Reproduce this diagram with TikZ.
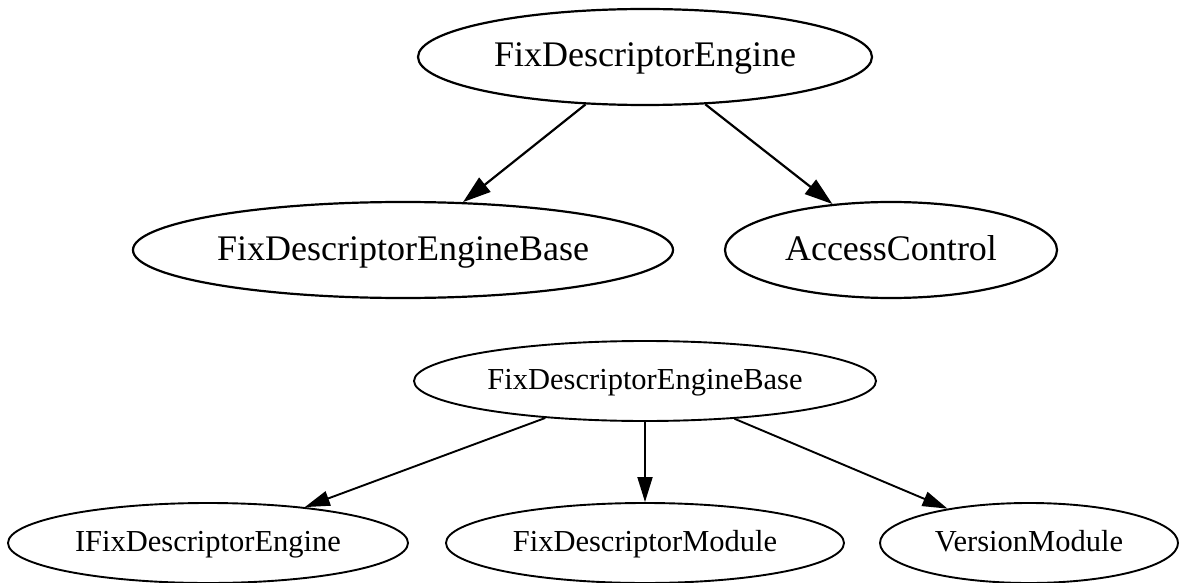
\documentclass[tikz,border=0pt]{standalone}
\usepackage{fontspec}
\setmainfont{Liberation Serif}
\usetikzlibrary{shapes.geometric,arrows.meta}
\begin{document}
\begin{tikzpicture}[x=1pt,y=1pt,
  bigell/.style={ellipse,draw,line width=2.2pt,inner sep=0pt,text height=25pt,text depth=5pt,font=\fontsize{36}{40}\selectfont},
  smallell/.style={ellipse,draw,line width=1.9pt,inner sep=0pt,text height=21pt,text depth=5pt,font=\fontsize{30.5}{34}\selectfont},
  bigarr/.style={line width=2.2pt,-{Triangle[length=28pt,width=18pt]}},
  smallarr/.style={line width=1.9pt,-{Triangle[length=25pt,width=15pt]}}]
\useasboundingbox (0,0) rectangle (1180,582);
\node[bigell,minimum width=454pt,minimum height=96pt] (e1) at (645,525) {FixDescriptorEngine};
\node[bigell,minimum width=540pt,minimum height=96pt] (b1) at (403,332) {FixDescriptorEngineBase};
\node[bigell,minimum width=332pt,minimum height=96pt] (ac) at (891,332) {AccessControl};
\node[smallell,minimum width=462pt,minimum height=80pt] (b2) at (645,201) {FixDescriptorEngineBase};
\node[smallell,minimum width=400pt,minimum height=80pt] (ife) at (208,39) {IFixDescriptorEngine};
\node[smallell,minimum width=398pt,minimum height=80pt] (fdm) at (645,39) {FixDescriptorModule};
\node[smallell,minimum width=298pt,minimum height=80pt] (vm) at (1029,39) {VersionModule};
\draw[bigarr] (e1) -- (b1);
\draw[bigarr] (e1) -- (ac);
\draw[smallarr] (b2) -- (ife);
\draw[smallarr] (b2) -- (fdm);
\draw[smallarr] (b2) -- (vm);
\end{tikzpicture}
\end{document}
